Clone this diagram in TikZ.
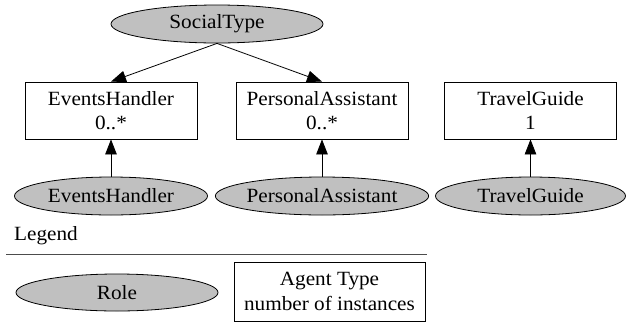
\documentclass[tikz,border=0pt]{standalone}
\usepackage{fontspec}
\setmainfont{Liberation Serif}[FakeStretch=1.05]
\usetikzlibrary{shapes.geometric,arrows.meta}
\definecolor{rolegray}{RGB}{192,192,192}
\begin{document}
\begin{tikzpicture}[x=1pt, y=-1pt,
  every node/.style={font=\fontsize{20.2}{24.5}\selectfont},
  role/.style={ellipse, draw, fill=rolegray, line width=0.8pt, inner sep=0pt, minimum height=38pt},
  agent/.style={rectangle, draw, line width=0.8pt, align=center, minimum width=172pt, minimum height=57pt, inner sep=0pt},
  link/.style={line width=0.8pt, -{Triangle[length=15pt,width=11.5pt]}}]
\useasboundingbox (0,0) rectangle (629,322);
% roles and agent types
\node[role, minimum width=212pt] (social) at (217,24){SocialType};
\node[agent] (evhT) at (111,110.5){EventsHandler\\0..*};
\node[agent] (paT) at (322,110.5){PersonalAssistant\\0..*};
\node[agent] (tgT) at (530.5,110.5){TravelGuide\\1};
\node[role, minimum width=193pt] (evh) at (111,196){EventsHandler};
\node[role, minimum width=192pt] (pa) at (322,196){PersonalAssistant};
\node[role, minimum width=190pt] (tg) at (530.5,196){TravelGuide};
\draw[link](social.south) -- (evhT.north);
\draw[link](social.south) -- (paT.north);
\draw[link](evh) -- (evhT);
\draw[link](pa) -- (paT);
\draw[link](tg) -- (tgT);
% legend
\node[anchor=base west, inner sep=0pt] (legend) at (14,240){Legend};
\coordinate (ruleL) at (6,254.5);
\coordinate (ruleR) at (427,254.5);
\draw[line width=0.8pt, black!70](ruleL) -- (ruleR);
\node[role, minimum width=202pt, minimum height=37pt] (roleKey) at (117,292.5){Role};
\node[agent, minimum width=191pt, minimum height=59pt] (agentKey) at (329.5,291.5){Agent Type\\number of instances};
\end{tikzpicture}
\end{document}
